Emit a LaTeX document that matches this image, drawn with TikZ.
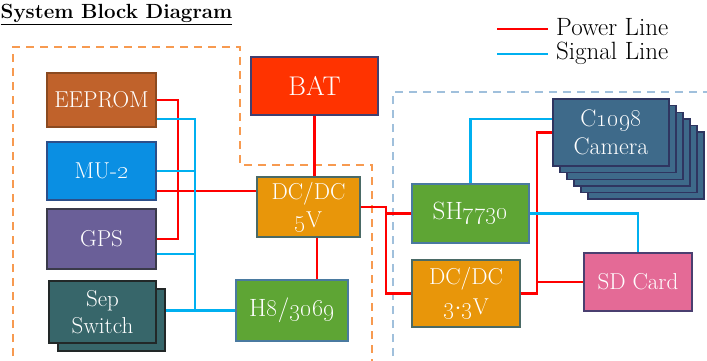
\documentclass[tikz,border=0pt]{standalone}
\usetikzlibrary{calc}
\definecolor{cEE}{HTML}{C0622B}
\definecolor{cEEb}{HTML}{8B4A20}
\definecolor{cMU}{HTML}{0A8FE3}
\definecolor{cMUb}{HTML}{2C4F8A}
\definecolor{cGPS}{HTML}{6A5F98}
\definecolor{cGPSb}{HTML}{3A3A4A}
\definecolor{cSEP}{HTML}{37666A}
\definecolor{cSEPb}{HTML}{222828}
\definecolor{cBAT}{HTML}{FF3300}
\definecolor{cBATb}{HTML}{404070}
\definecolor{cDC}{HTML}{E8960A}
\definecolor{cDCb}{HTML}{4A6A66}
\definecolor{cGR}{HTML}{5EA534}
\definecolor{cGRb}{HTML}{4A7AA0}
\definecolor{cSD}{HTML}{E46A96}
\definecolor{cSDb}{HTML}{4A3F70}
\definecolor{cCAM}{HTML}{3E6A8A}
\definecolor{cCAMb}{HTML}{2F3560}
\definecolor{cPow}{HTML}{FF0000}
\definecolor{cSig}{HTML}{00B0F0}
\definecolor{cOrD}{HTML}{F79A50}
\definecolor{cBlD}{HTML}{A0C0DC}
\tikzset{
  blk/.style={draw, line width=1.4pt, inner sep=0pt, align=center, text=white, font=\fontsize{23}{25}\selectfont},
  twoline/.style={font=\fontsize{23}{28}\selectfont},
  bignum/.style={font=\fontsize{25}{27}\selectfont},
  power/.style={draw=cPow, line width=2.8pt},
  signal/.style={draw=cSig, line width=2.8pt},
  region/.style={line width=2pt, dash pattern=on 8pt off 6pt},
  legtext/.style={anchor=west, inner sep=0pt, font=\fontsize{25}{27}\selectfont},
}
\begin{document}
\begin{tikzpicture}[x=1pt,y=-1pt]
\useasboundingbox (0,0) rectangle (707,361);
\clip (0,0) rectangle (707,361);
% regions
\draw[region, draw=cOrD] (13,370) -- (13,47) -- (240,47) -- (240,165) -- (372,165) -- (372,370);
\draw[region, draw=cBlD] (393,370) -- (393,92) -- (715,92);
% title
\node[anchor=base west, inner sep=0pt, font=\fontsize{20.5}{22}\selectfont\bfseries] (title) at (0.5,19) {\underline{System Block Diagram}};
% legend
\coordinate (lp1) at (497,29); \coordinate (lp2) at (548,29);
\coordinate (ls1) at (497,54); \coordinate (ls2) at (548,54);
\draw[power] (lp1) -- (lp2);
\draw[signal] (ls1) -- (ls2);
\node[legtext] (lpt) at (556,27) {Power Line};
\node[legtext] (lst) at (556,53) {Signal Line};
% blocks
\node[blk, fill=cEE, draw=cEEb, minimum width=109pt, minimum height=54pt] (eeprom) at (101.5,100) {EEPROM};
\node[blk, fill=cMU, draw=cMUb, minimum width=109pt, minimum height=58pt] (mu) at (101.5,171) {MU-\oldstylenums{2}};
\node[blk, fill=cGPS, draw=cGPSb, minimum width=109pt, minimum height=60pt] (gps) at (101.5,239) {GPS};
\node[blk, fill=cSEP, draw=cSEPb, minimum width=107pt, minimum height=62pt] (sepb) at (111.5,320) {};
\node[blk, fill=cSEP, draw=cSEPb, minimum width=107pt, minimum height=62pt, font=\fontsize{23}{27}\selectfont] (sep) at (102.5,312) {Sep\\Switch};
\node[blk, fill=cBAT, draw=cBATb, minimum width=127pt, minimum height=58pt, font=\fontsize{27}{29}\selectfont] (bat) at (314.5,86) {BAT};
\node[blk, twoline, fill=cDC, draw=cDCb, minimum width=103pt, minimum height=60pt] (dc5) at (308.5,207) {DC/DC\\\oldstylenums{5}V};
\node[blk, bignum, fill=cGR, draw=cGRb, minimum width=112pt, minimum height=61pt] (h8) at (292,310.5) {H\oldstylenums{8}/\oldstylenums{3069}};
\node[blk, bignum, fill=cGR, draw=cGRb, minimum width=117pt, minimum height=59pt] (sh) at (470.5,213.5) {SH\oldstylenums{7730}};
\node[blk, fill=cDC, draw=cDCb, minimum width=108pt, minimum height=67pt, font=\fontsize{23}{30}\selectfont] (dc33) at (466,293.5) {DC/DC\\\oldstylenums{3}$\cdot$\oldstylenums{3}V};
\node[blk, fill=cSD, draw=cSDb, minimum width=108pt, minimum height=58pt] (sd) at (638,282) {SD Card};
% camera stack
\foreach \k in {5,4,3,2,1}{
  \node[blk, fill=cCAM, draw=cCAMb, minimum width=116pt, minimum height=67pt] (cam\k) at (611+7*\k,132.5+6.6*\k) {};
}
\node[blk, fill=cCAM, draw=cCAMb, minimum width=116pt, minimum height=67pt, font=\fontsize{24}{28}\selectfont] (cam) at (611,132.5) {C\oldstylenums{1098}\\Camera};
% bus coordinates
\coordinate (busE) at (178,170);
\coordinate (busS) at (195,200);
\coordinate (busR) at (386,250);
\coordinate (busC) at (537,200);
\coordinate (e2) at ([yshift=-19pt]eeprom.east);
\coordinate (m2) at ([yshift=-20pt]mu.east);
\coordinate (g2) at ([yshift=-15pt]gps.east);
\coordinate (p5) at ([xshift=8.5pt]dc5.south);
\coordinate (c2) at ([yshift=13.5pt]cam.west);
% power lines
\draw[power] (eeprom.east) -- (eeprom.east -| busE) |- (gps.east);
\draw[power] (m2) -- (m2 -| dc5.west);
\draw[power] (bat.south) -- (bat.south |- dc5.north);
\draw[power] (p5) -- (p5 |- h8.north);
\draw[power] (dc5.east) -- (dc5.east -| busR) |- (dc33.west);
\draw[power] (sh.west) -- (sh.west -| busR);
\draw[power] (dc33.east) -- (dc33.east -| busC) |- (cam.west);
\draw[power] (sd.west) -- (sd.west -| busC);
% signal lines
\draw[signal] (e2) -- (e2 -| busS) -- (busS |- h8.west);
\draw[signal] (mu.east) -- (mu.east -| busS);
\draw[signal] (g2) -- (g2 -| busS);
\draw[signal] (h8.west) -- (h8.west -| sepb.east);
\draw[signal] (sh.north) |- (c2);
\draw[signal] (sh.east) -| (sd.north);
\end{tikzpicture}
\end{document}
